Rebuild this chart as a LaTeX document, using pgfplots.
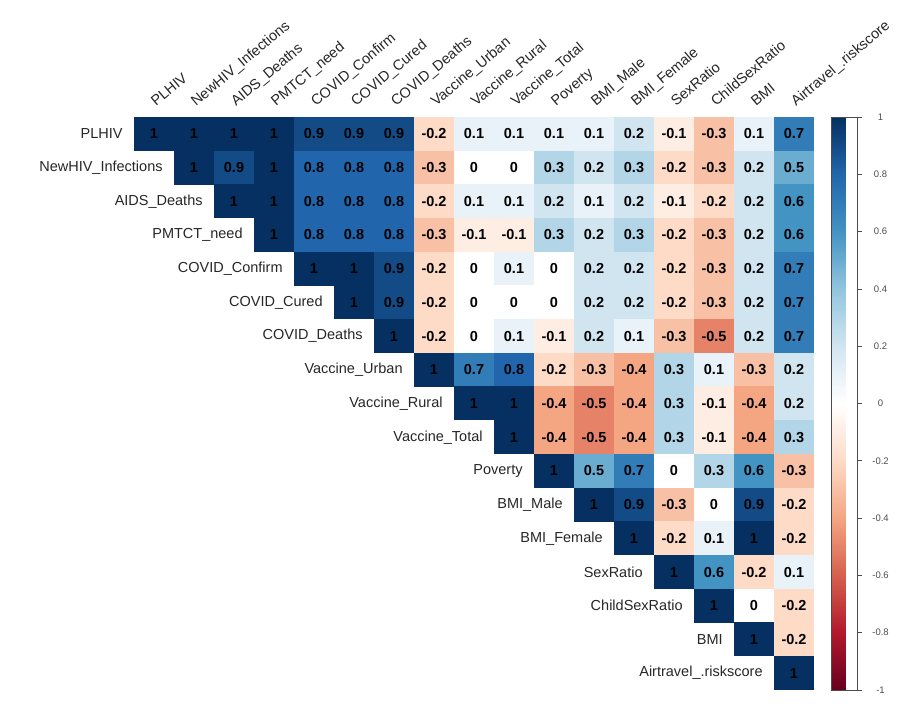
\documentclass[border=0pt]{standalone}
\usepackage{fontspec}
\setmainfont{Liberation Sans}
\usepackage{pgfplots}
\usepackage{pgfplotstable}
\pgfplotsset{compat=1.18}

% one filled cell of the correlation grid (40pt x 33.7pt per unit)
\pgfdeclareplotmark{cell}{%
  \pgfpathrectangle{\pgfpoint{-20.3pt}{-17.0pt}}{\pgfpoint{40.6pt}{34.0pt}}%
  \pgfusepathqfill}

% upper triangle of the correlation matrix: row, column, r
\pgfplotstableread{
r c v
1 1 1
1 2 1
1 3 1
1 4 1
1 5 0.9
1 6 0.9
1 7 0.9
1 8 -0.2
1 9 0.1
1 10 0.1
1 11 0.1
1 12 0.1
1 13 0.2
1 14 -0.1
1 15 -0.3
1 16 0.1
1 17 0.7
2 2 1
2 3 0.9
2 4 1
2 5 0.8
2 6 0.8
2 7 0.8
2 8 -0.3
2 9 0
2 10 0
2 11 0.3
2 12 0.2
2 13 0.3
2 14 -0.2
2 15 -0.3
2 16 0.2
2 17 0.5
3 3 1
3 4 1
3 5 0.8
3 6 0.8
3 7 0.8
3 8 -0.2
3 9 0.1
3 10 0.1
3 11 0.2
3 12 0.1
3 13 0.2
3 14 -0.1
3 15 -0.2
3 16 0.2
3 17 0.6
4 4 1
4 5 0.8
4 6 0.8
4 7 0.8
4 8 -0.3
4 9 -0.1
4 10 -0.1
4 11 0.3
4 12 0.2
4 13 0.3
4 14 -0.2
4 15 -0.3
4 16 0.2
4 17 0.6
5 5 1
5 6 1
5 7 0.9
5 8 -0.2
5 9 0
5 10 0.1
5 11 0
5 12 0.2
5 13 0.2
5 14 -0.2
5 15 -0.3
5 16 0.2
5 17 0.7
6 6 1
6 7 0.9
6 8 -0.2
6 9 0
6 10 0
6 11 0
6 12 0.2
6 13 0.2
6 14 -0.2
6 15 -0.3
6 16 0.2
6 17 0.7
7 7 1
7 8 -0.2
7 9 0
7 10 0.1
7 11 -0.1
7 12 0.2
7 13 0.1
7 14 -0.3
7 15 -0.5
7 16 0.2
7 17 0.7
8 8 1
8 9 0.7
8 10 0.8
8 11 -0.2
8 12 -0.3
8 13 -0.4
8 14 0.3
8 15 0.1
8 16 -0.3
8 17 0.2
9 9 1
9 10 1
9 11 -0.4
9 12 -0.5
9 13 -0.4
9 14 0.3
9 15 -0.1
9 16 -0.4
9 17 0.2
10 10 1
10 11 -0.4
10 12 -0.5
10 13 -0.4
10 14 0.3
10 15 -0.1
10 16 -0.4
10 17 0.3
11 11 1
11 12 0.5
11 13 0.7
11 14 0
11 15 0.3
11 16 0.6
11 17 -0.3
12 12 1
12 13 0.9
12 14 -0.3
12 15 0
12 16 0.9
12 17 -0.2
13 13 1
13 14 -0.2
13 15 0.1
13 16 1
13 17 -0.2
14 14 1
14 15 0.6
14 16 -0.2
14 17 0.1
15 15 1
15 16 0
15 17 -0.2
16 16 1
16 17 -0.2
17 17 1
}\corr

\newcommand{\lblfont}{\fontsize{14.5}{17}\selectfont}

\begin{document}
\begin{tikzpicture}
\useasboundingbox (0,0) rectangle (904pt,717pt);
\begin{axis}[
  at={(134pt,27pt)}, anchor=south west,
  scale only axis, width=680pt, height=573pt,
  xmin=0.5, xmax=17.5, ymin=0.5, ymax=17.5,
  axis line style={draw=none}, xtick=\empty, ytick=\empty,
  clip=false,
  colormap={RdBu}{rgb255=(103,0,31) rgb255=(178,24,43) rgb255=(214,96,77)
    rgb255=(244,165,130) rgb255=(253,219,199) rgb255=(255,255,255)
    rgb255=(209,229,240) rgb255=(146,197,222) rgb255=(67,147,195)
    rgb255=(33,102,172) rgb255=(5,48,97)},
  point meta min=-1, point meta max=1,
  colorbar,
  colorbar style={
    at={(parent axis.north east)}, anchor=north west, xshift=9pt,
    scale only axis, width=26pt, height=573pt,
    ytick={-1,-0.8,-0.6,-0.4,-0.2,0,0.2,0.4,0.6,0.8,1},
    yticklabel pos=right, ytick pos=right,
    tick align=outside, major tick length=4pt,
    tick style={black!70, line width=0.6pt},
    axis line style={draw=black!70, line width=0.8pt},
    yticklabel style={font=\fontsize{9.5}{11}\selectfont, text=black!70,
      anchor=center, xshift=19pt,
      /pgf/number format/fixed, /pgf/number format/assume math mode=true},
  },
]
% coloured cells
\addplot[scatter, only marks, mark=cell, point meta=explicit,
  scatter/use mapped color={draw=none, fill=mapped color}]
  table[x=c, y expr=18-\thisrow{r}, meta=v] {\corr};
% coefficient in each cell
\addplot[draw=none, mark=none, point meta=explicit symbolic,
  nodes near coords, nodes near coords align=center,
  nodes near coords style={font=\bfseries\lblfont, text=black, anchor=center, inner sep=0pt}]
  table[x=c, y expr=18-\thisrow{r}, meta=v] {\corr};
% row names, left of the diagonal
\addplot[draw=none, mark=none, point meta=explicit symbolic,
  nodes near coords, nodes near coords align=center,
  nodes near coords style={font=\lblfont, text=black!85, anchor=east, inner sep=0pt}]
  coordinates {
  (0.22,17)[PLHIV] (1.22,16)[NewHIV\_Infections] (2.22,15)[AIDS\_Deaths]
  (3.22,14)[PMTCT\_need] (4.22,13)[COVID\_Confirm] (5.22,12)[COVID\_Cured]
  (6.22,11)[COVID\_Deaths] (7.22,10)[Vaccine\_Urban] (8.22,9)[Vaccine\_Rural]
  (9.22,8)[Vaccine\_Total] (10.22,7)[Poverty] (11.22,6)[BMI\_Male]
  (12.22,5)[BMI\_Female] (13.22,4)[SexRatio] (14.22,3)[ChildSexRatio]
  (15.22,2)[BMI] (16.22,1)[Airtravel\_.riskscore]};
% column names along the top
\addplot[draw=none, mark=none, point meta=explicit symbolic,
  nodes near coords, nodes near coords align=center,
  nodes near coords style={font=\lblfont, text=black!85, anchor=base west, rotate=40, inner sep=0pt}]
  coordinates {
  (1.05,17.8)[PLHIV] (2.05,17.8)[NewHIV\_Infections] (3.05,17.8)[AIDS\_Deaths]
  (4.05,17.8)[PMTCT\_need] (5.05,17.8)[COVID\_Confirm] (6.05,17.8)[COVID\_Cured]
  (7.05,17.8)[COVID\_Deaths] (8.05,17.8)[Vaccine\_Urban] (9.05,17.8)[Vaccine\_Rural]
  (10.05,17.8)[Vaccine\_Total] (11.05,17.8)[Poverty] (12.05,17.8)[BMI\_Male]
  (13.05,17.8)[BMI\_Female] (14.05,17.8)[SexRatio] (15.05,17.8)[ChildSexRatio]
  (16.05,17.8)[BMI] (17.05,17.8)[Airtravel\_.riskscore]};
\end{axis}
\end{tikzpicture}
\end{document}
